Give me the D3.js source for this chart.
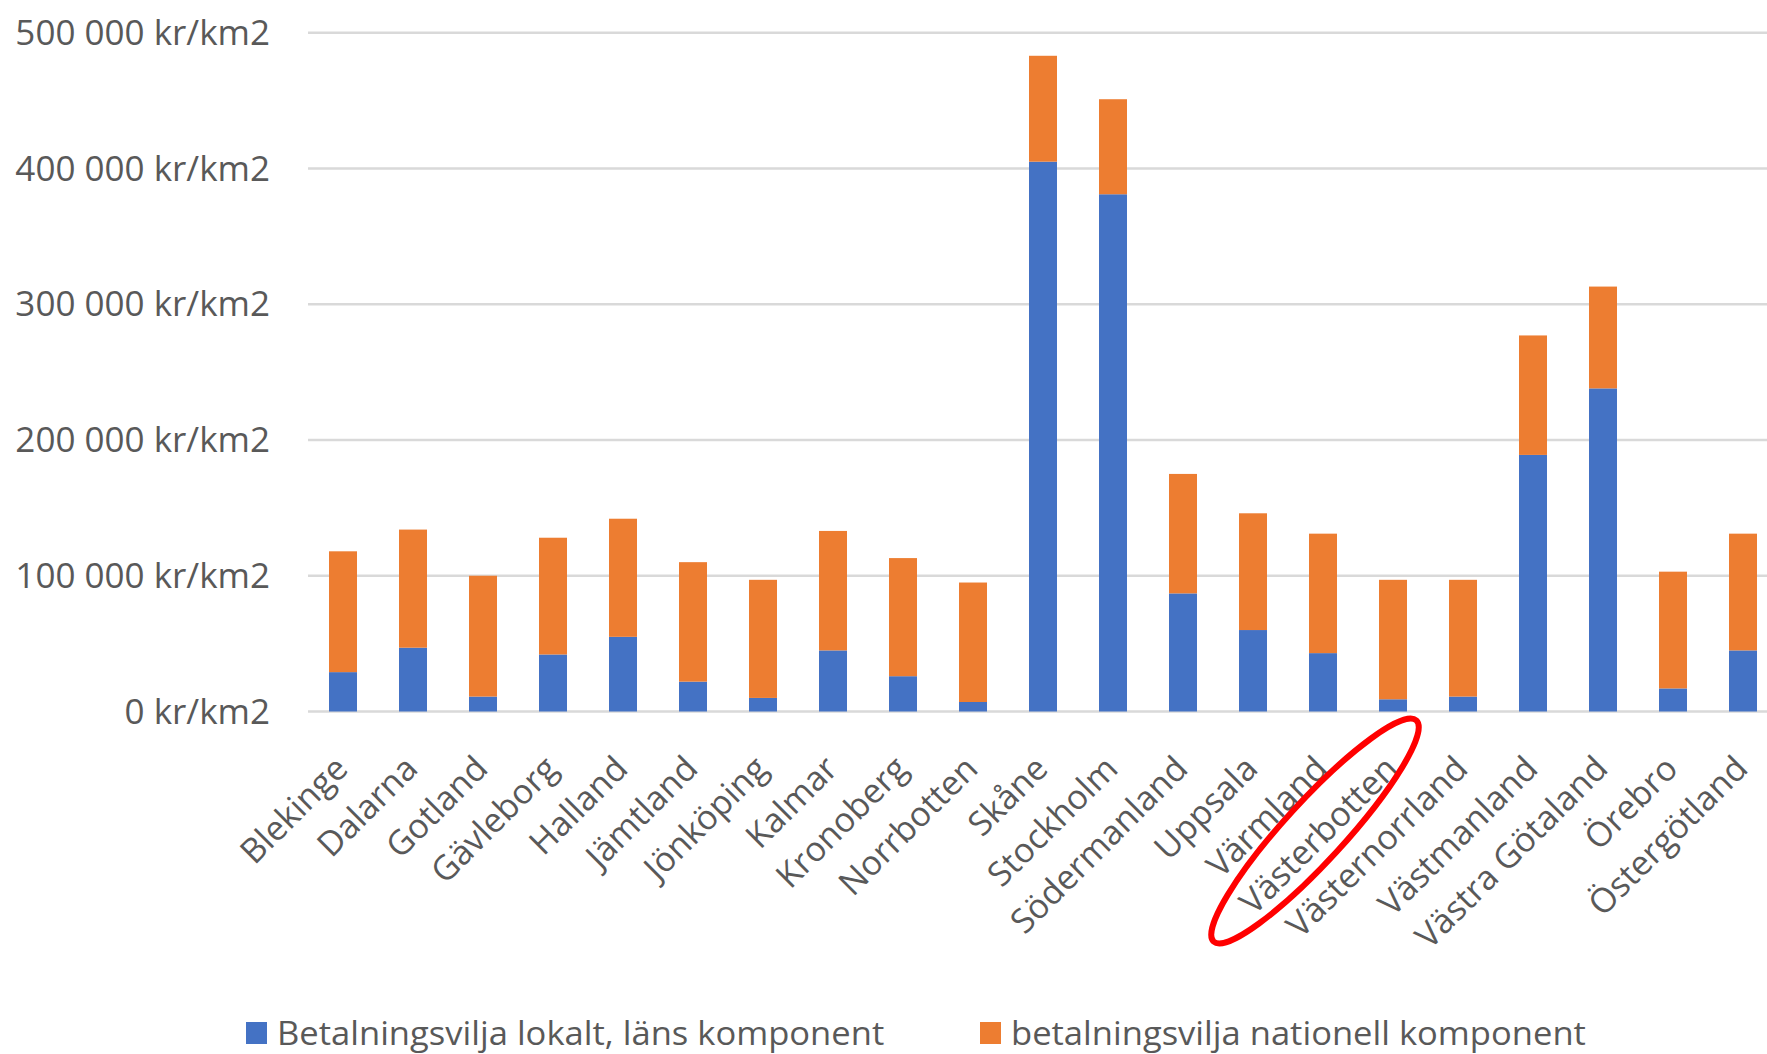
<!DOCTYPE html>
<html>
<head>
<meta charset="utf-8">
<script src="https://cdn.jsdelivr.net/npm/d3@7"></script>
<style>
    body { margin: 0; background: #fff; }
    text { font-family: "Open Sans", sans-serif; fill: #595959; }
</style>
</head>
<body>
<div id="svg1"></div>
<script>
// län (categories)
const lan = ["Blekinge", "Dalarna", "Gotland", "Gävleborg", "Halland", "Jämtland", "Jönköping",
    "Kalmar", "Kronoberg", "Norrbotten", "Skåne", "Stockholm", "Södermanland", "Uppsala",
    "Värmland", "Västerbotten", "Västernorrland", "Västmanland", "Västra Götaland", "Örebro", "Östergötland"];

// Betalningsvilja lokalt, läns komponent (kr/km2)
const lokal = [29000, 47000, 11000, 42000, 55000, 22000, 10000, 45000, 26000, 7000, 405000,
    381000, 87000, 60000, 43000, 9000, 11000, 189000, 238000, 17000, 45000];

// betalningsvilja nationell komponent (kr/km2)
const nationell = [89000, 87000, 89000, 86000, 87000, 88000, 87000, 88000, 87000, 88000, 78000,
    70000, 88000, 86000, 88000, 88000, 86000, 88000, 75000, 86000, 86000];

const yTicks = [0, 100000, 200000, 300000, 400000, 500000];
const seriesNames = ["Betalningsvilja lokalt, läns komponent", "betalningsvilja nationell komponent"];
const colors = ["#4472C4", "#ED7D31"];

const width = 1767;
const height = 1054;

const svg = d3.select("#svg1")
    .append("svg")
    .attr("width", width)
    .attr("height", height);

// plot area runs a bit past the right edge, like the cropped original
const plotLeft = 308, plotRight = 1778;
const x = d3.scaleBand().domain(lan).range([plotLeft, plotRight]).paddingInner(0.6).paddingOuter(0.3);
const y = d3.scaleLinear().domain([0, 500000]).range([711.5, 32.7]);

// format "500 000 kr/km2"
const fmt = v => d3.format(",")(v).replace(/,/g, " ") + " kr/km2";

// gridlines
svg.append("g")
    .selectAll("line")
    .data(yTicks)
    .join("line")
    .attr("x1", plotLeft)
    .attr("x2", width)
    .attr("y1", d => y(d))
    .attr("y2", d => y(d))
    .attr("stroke", "#d9d9d9")
    .attr("stroke-width", 2.5);

// y labels
svg.append("g")
    .selectAll("text")
    .data(yTicks)
    .join("text")
    .attr("transform", d => `translate(270,${y(d)}) scale(1.03,1)`)
    .attr("dy", "0.36em")
    .attr("text-anchor", "end")
    .style("font-size", "34px")
    .text(fmt);

// stacked data
const data = lan.map((l, i) => ({ lan: l, lokal: lokal[i], nationell: nationell[i] }));
const stack = d3.stack().keys(["lokal", "nationell"])(data);

svg.append("g")
    .selectAll("g")
    .data(stack)
    .join("g")
    .attr("fill", (d, i) => colors[i])
    .selectAll("rect")
    .data(d => d)
    .join("rect")
    .attr("x", d => x(d.data.lan))
    .attr("width", x.bandwidth())
    .attr("y", d => y(d[1]))
    .attr("height", d => y(d[0]) - y(d[1]));

// x labels rotated -45
svg.append("g")
    .selectAll("text")
    .data(lan)
    .join("text")
    .attr("transform", d => `translate(${x(d) + x.bandwidth() / 2 - 2},762) rotate(-45)`)
    .attr("dy", "0.36em")
    .attr("text-anchor", "end")
    .style("font-size", "34px")
    .text(d => d);

// legend
const legendX = [246, 980];
const legend = svg.append("g")
    .selectAll("g")
    .data(seriesNames)
    .join("g")
    .attr("transform", (d, i) => `translate(${legendX[i]},1033)`);

legend.append("rect")
    .attr("x", 0)
    .attr("y", -11)
    .attr("width", 21)
    .attr("height", 22)
    .attr("fill", (d, i) => colors[i]);

legend.append("text")
    .attr("transform", "translate(31,0) scale(1.08,1)")
    .attr("dy", "0.36em")
    .style("font-size", "32px")
    .text(d => d);

// red ring around Västerbotten
svg.append("ellipse")
    .attr("transform", "translate(1315,831) rotate(-47.5)")
    .attr("rx", 150)
    .attr("ry", 30)
    .attr("fill", "none")
    .attr("stroke", "#ff0000")
    .attr("stroke-width", 6);
</script>
</body>
</html>
